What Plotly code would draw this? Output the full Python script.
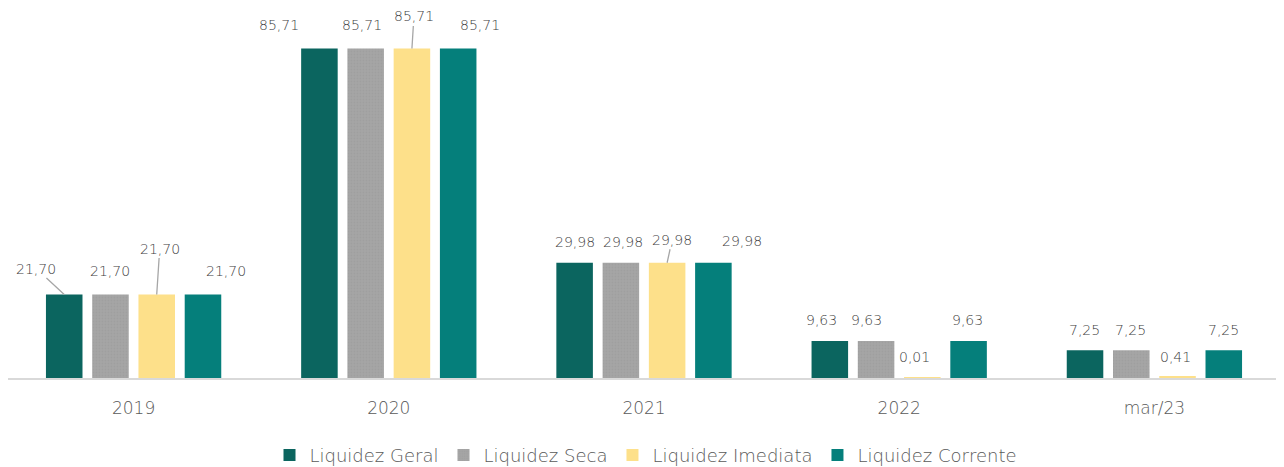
import plotly.graph_objects as go

categories = ["2019", "2020", "2021", "2022", "mar/23"]
series_names = ["Liquidez Geral", "Liquidez Seca", "Liquidez Imediata", "Liquidez Corrente"]
liq_geral = [21.70, 85.71, 29.98, 9.63, 7.25]
liq_seca = [21.70, 85.71, 29.98, 9.63, 7.25]
liq_imediata = [21.70, 85.71, 29.98, 0.01, 0.41]
liq_corrente = [21.70, 85.71, 29.98, 9.63, 7.25]

colors = ["#0b655f", "#a5a5a5", "#fde08a", "#057f7b"]
all_values = [liq_geral, liq_seca, liq_imediata, liq_corrente]

# page body adds an 8px margin, so the figure is 8px smaller than the window
W, H = 1276, 459
ml, mr, mt, mb = 0, 0, 23.5, 89
bargap = 0.275
FONT = "DejaVu Sans, sans-serif"

# label offsets (px) relative to each bar top: (dx, dy, leader line?)
label_pos = [
    [(-28, -26, True), (-40, -23, False), (0, -21, False), (-8, -21, False), (-1, -20, False)],
    [(0, -24, False), (-4, -23, False), (2, -21, False), (-10, -21, False), (-1, -20, False)],
    [(3, -46, True), (2, -32, True), (5, -23, True), (-8, -21, False), (-2, -19, False)],
    [(23, -24, False), (22, -23, False), (29, -22, False), (-1, -21, False), (0, -20, False)],
]

fig = go.Figure()
for name, vals, col in zip(series_names, all_values, colors):
    marker = dict(color=col, line_width=0)
    if name == "Liquidez Seca":
        marker["pattern"] = dict(shape=".", fgcolor="#999999", bgcolor=col, size=3, solidity=0.3)
    fig.add_trace(go.Bar(x=categories, y=vals, name=name, marker=marker))

cat_px = (W - ml - mr) / len(categories)
slot = cat_px * (1 - bargap) / len(series_names)

for i, vals in enumerate(all_values):
    off = (i - (len(series_names) - 1) / 2) * slot
    for j, v in enumerate(vals):
        dx, dy, line = label_pos[i][j]
        fig.add_annotation(
            x=j, y=v, xref="x", yref="y",  # category index
            text=f"{v:.2f}".replace(".", ","),
            showarrow=True, arrowhead=0, arrowwidth=1.3,
            arrowcolor="#a6a6a6" if line else "rgba(0,0,0,0)",
            ax=dx, ay=dy, xshift=off,
            font=dict(size=14, color="#404040", family=FONT, weight=200),
        )

shift = 2 / cat_px
fig.update_layout(
    width=W, height=H,
    margin=dict(l=ml, r=mr, t=mt, b=mb, autoexpand=False),
    plot_bgcolor="white", paper_bgcolor="white",
    barmode="group", bargap=bargap, bargroupgap=0.21,
    font=dict(family=FONT, color="#595959", weight=200),
    xaxis=dict(type="category", range=[-0.5 + shift, len(categories) - 0.5 + shift],
               showline=True, linecolor="#d9d9d9", linewidth=1.5, ticks="",
               ticklabelstandoff=14,
               tickfont=dict(size=17, color="#595959", family=FONT, weight=200), showgrid=False),
    yaxis=dict(range=[0, 90], visible=False, showgrid=False),
    legend=dict(orientation="h", x=0.5, xanchor="center", y=-0.17, yanchor="top",
                font=dict(size=18, color="#595959", family=FONT, weight=200), itemwidth=30),
    showlegend=True,
)

fig.write_html("out.html")
